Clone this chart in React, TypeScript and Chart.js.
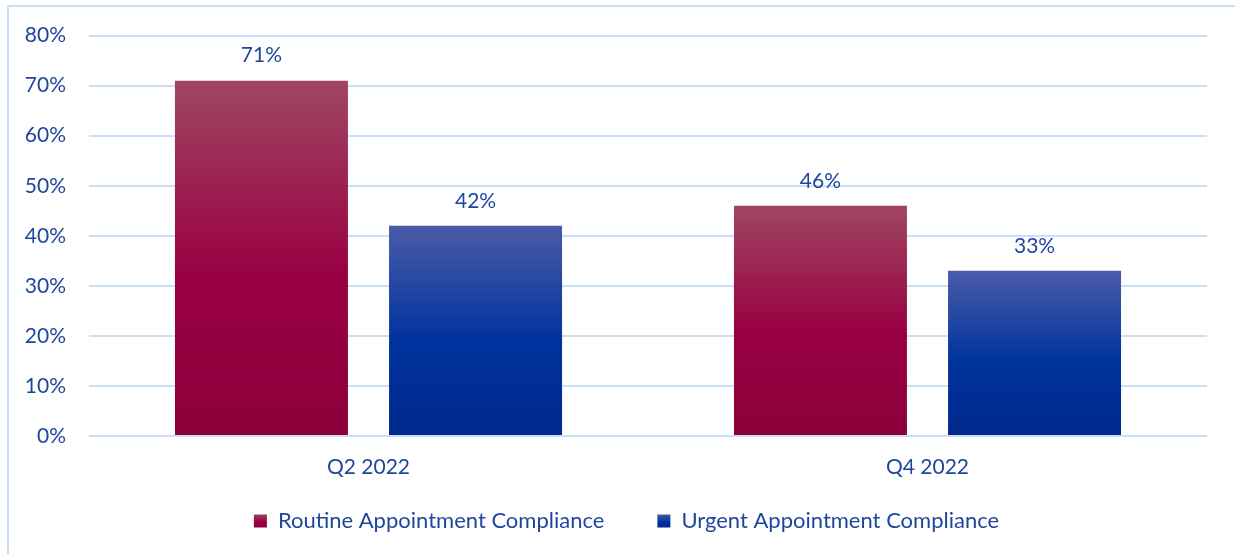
import React, { useEffect, useRef } from "react";
import { Chart, registerables } from "chart.js";

Chart.register(...registerables);

const categories = ["Q2 2022", "Q4 2022"];
const routineValues = [71, 46];
const urgentValues = [42, 33];
const seriesNames = ["Routine Appointment Compliance", "Urgent Appointment Compliance"];
const yTicks = [0, 10, 20, 30, 40, 50, 60, 70, 80];

const TEXT = "#1E469E";
const GRID = "#CCDDF7";
const FONT = "Lato, 'Open Sans', sans-serif";

const routineStops = ["#9F4662", "#990042", "#8C003B"];
const urgentStops = ["#4A5BA8", "#00339E", "#00288C"];

function barGradient(stops: string[]) {
  return (ctx: any) => {
    const chart = ctx.chart;
    const y = chart.scales?.y;
    if (!y || ctx.type !== "data") return stops[1];
    const v = ctx.raw as number;
    const top = y.getPixelForValue(v);
    const bottom = y.getPixelForValue(0);
    if (!isFinite(top) || !isFinite(bottom) || bottom - top < 1) return stops[1];
    const g = chart.ctx.createLinearGradient(0, top, 0, bottom);
    g.addColorStop(0, stops[0]);
    g.addColorStop(0.55, stops[1]);
    g.addColorStop(1, stops[2]);
    return g;
  };
}

const valueLabels = {
  id: "valueLabels",
  afterDatasetsDraw(chart: any) {
    const { ctx } = chart;
    ctx.save();
    ctx.fillStyle = TEXT;
    ctx.font = `21px ${FONT}`;
    ctx.textAlign = "center";
    ctx.textBaseline = "middle";
    chart.data.datasets.forEach((ds: any, di: number) => {
      const meta = chart.getDatasetMeta(di);
      meta.data.forEach((bar: any, i: number) => {
        ctx.fillText(`${ds.data[i]}%`, bar.x, bar.y - 25);
      });
    });
    ctx.restore();
  },
};

const legendPlacement = {
  id: "legendPlacement",
  afterLayout(chart: any) {
    const lg = chart.legend;
    if (!lg) return;
    lg.left = 46;
    lg.top -= 22;
    lg.bottom -= 22;
  },
};

export default function App() {
  const ref = useRef<HTMLCanvasElement | null>(null);

  useEffect(() => {
    if (!ref.current) return;
    const legendGrad = (stops: string[], ctx2: CanvasRenderingContext2D) => {
      const g = ctx2.createLinearGradient(0, 514, 0, 528);
      g.addColorStop(0, stops[0]);
      g.addColorStop(0.55, stops[1]);
      g.addColorStop(1, stops[2]);
      return g;
    };
    const chart = new Chart(ref.current, {
      type: "bar",
      data: {
        labels: categories,
        datasets: [
          {
            label: seriesNames[0],
            data: routineValues,
            backgroundColor: barGradient(routineStops) as any,
            categoryPercentage: 0.766,
            barPercentage: 0.808,
          },
          {
            label: seriesNames[1],
            data: urgentValues,
            backgroundColor: barGradient(urgentStops) as any,
            categoryPercentage: 0.766,
            barPercentage: 0.808,
          },
        ],
      },
      options: {
        responsive: false,
        animation: false,
        layout: { padding: { left: 0, right: 28, top: 35, bottom: 0 } },
        plugins: {
          tooltip: { enabled: false },
          legend: {
            position: "bottom",
            maxHeight: 75,
            labels: {
              color: TEXT,
              font: { family: FONT, size: 22 },
              boxWidth: 13,
              boxHeight: 13,
              padding: 53,
              generateLabels: (c: any) =>
                c.data.datasets.map((ds: any, i: number) => ({
                  text: ds.label,
                  fillStyle: legendGrad(i === 0 ? routineStops : urgentStops, c.ctx),
                  strokeStyle: "rgba(0,0,0,0)",
                  lineWidth: 0,
                  fontColor: TEXT,
                  datasetIndex: i,
                  hidden: false,
                })),
            },
          } as any,
        },
        scales: {
          x: {
            grid: { display: false, drawTicks: false },
            border: { display: false },
            ticks: { color: TEXT, font: { family: FONT, size: 21 }, padding: 19 },
            afterFit: (s: any) => {
              s.height = 43;
            },
          },
          y: {
            min: 0,
            max: 80,
            afterBuildTicks: (s: any) => {
              s.ticks = yTicks.map((v) => ({ value: v }));
            },
            grid: { color: GRID, lineWidth: 2, drawTicks: false },
            border: { display: false },
            ticks: {
              color: TEXT,
              font: { family: FONT, size: 21 },
              padding: 23,
              callback: (v: any) => `${v}%`,
            },
            afterFit: (s: any) => {
              s.width = 89;
            },
          },
        },
      },
      plugins: [valueLabels, legendPlacement],
    });
    return () => chart.destroy();
  }, []);

  return (
    <div
      style={{
        position: "fixed",
        left: 0,
        top: 0,
        width: 1235,
        height: 554,
        background: "#fff",
        overflow: "hidden",
      }}
    >
      <div
        style={{
          position: "absolute",
          left: 7,
          top: 5,
          width: 1260,
          height: 580,
          border: "2px solid #CADCF6",
          boxSizing: "border-box",
        }}
      />
      <canvas
        ref={ref}
        width={1235}
        height={554}
        style={{ position: "absolute", left: 0, top: 0, width: 1235, height: 554 }}
      />
    </div>
  );
}
